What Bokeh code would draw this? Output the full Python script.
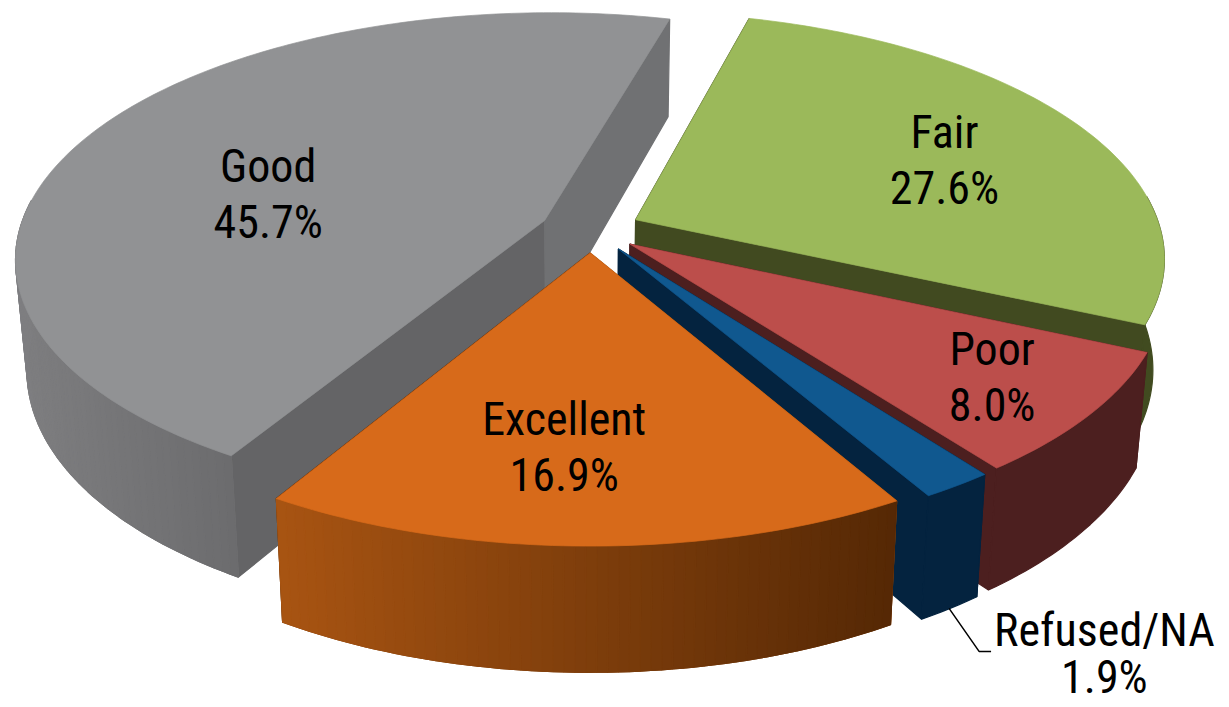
import math
from bokeh.plotting import figure
from bokeh.models import Range1d
from bokeh.core.properties import value
from bokeh.embed import file_html
from bokeh.resources import INLINE

# ---- data ----
categories = ["Good", "Fair", "Poor", "Refused/NA", "Excellent"]
shares = [45.7, 27.6, 8.0, 1.9, 16.9]

# ---- styles ----
top_colors = ["#919294", "#9BB95A", "#BC4E4B", "#10588F", "#D76A1A"]
cut_end_colors = ["#707173", "#414A20", "#4C1F1F", "#04233F", "#5A2B06"]   # wall at clockwise end
cut_start_colors = ["#646466", "#414A20", "#4C1F1F", "#04233F", "#A5540F"]  # wall at start
wall_from = [(126, 126, 128), (65, 75, 32), (76, 31, 31), (4, 35, 63), (168, 84, 18)]
wall_to = [(108, 108, 110), (65, 75, 32), (76, 31, 31), (4, 35, 63), (85, 40, 5)]
START_ANGLE = 210.8     # clockwise from the far side of the disc
label_radius = [0.585, 0.68, 0.795, 1.0, 0.685]
label_nudge = [(-6, 26), (3, 7), (4, 0), (147, 168), (-23, 4)]
label_gap = [56, 56, 56, 47, 56]
FONT = "Roboto Condensed"
FONT_PX = 46

# ---- projection ----
CX, R, EXPLODE, PERSP = 590.0, 525.0, 0.0955, 0.15
CY_TOP, K_TOP = 229.0, 0.46
CY_BOT, K_BOT, SHRINK = 338.0, 0.485, 0.98


def project(X, Y, bottom=False):
    s = 1.0 / (1.0 - PERSP * Y)
    if bottom:
        return CX + R * X * s * SHRINK, CY_BOT + R * K_BOT * Y * s
    return CX + R * X * s, CY_TOP + R * K_TOP * Y * s


def polar(angle_deg, radius, off_x, off_y):
    a = math.radians(angle_deg)
    return off_x + radius * math.sin(a), off_y - radius * math.cos(a)


p = figure(width=1229, height=707, output_backend="svg", toolbar_location=None,
           x_range=Range1d(0, 1229), y_range=Range1d(707, 0), min_border=0,
           outline_line_color=None)
p.axis.visible = False
p.grid.visible = False


def poly(points, color, width=0.7):
    p.patch([q[0] for q in points], [q[1] for q in points],
            fill_color=color, line_color=color, line_width=width)


total = sum(shares)
angle = START_ANGLE
for i, share in enumerate(shares):
    span = share / total * 360.0
    a0, a1 = angle, angle + span
    angle = a1
    mid = (a0 + a1) / 2.0
    ox, oy = polar(mid, EXPLODE, 0.0, 0.0)
    n = max(4, int(span))
    angles = [a0 + span * j / n for j in range(n + 1)]
    arc = [polar(a, 1.0, ox, oy) for a in angles]

    # cut walls
    for edge, color in ((arc[0], cut_start_colors[i]), (arc[-1], cut_end_colors[i])):
        poly([project(ox, oy), project(*edge), project(*edge, True), project(ox, oy, True)], color, 1.2)

    # outer wall (near side only): a solid base, then shading strip by strip across the screen
    near = [q for q, a in zip(arc, angles) if math.cos(math.radians(a)) < 0.1]
    tops = [project(*q) for q in near]
    bots = [project(*q, True) for q in near]
    if len(near) > 1:
        base = "#%02x%02x%02x" % tuple((wall_from[i][k] + wall_to[i][k]) // 2 for k in range(3))
        poly(tops + bots[::-1], base, 1.2)
        if wall_from[i] != wall_to[i]:
            xs = [q[0] for q in tops]
            xmin, xmax = min(xs), max(xs)
            for j in range(len(near) - 1):
                t = ((xs[j] + xs[j + 1]) / 2.0 - xmin) / max(xmax - xmin, 1.0)
                c = [round(wall_from[i][k] + (wall_to[i][k] - wall_from[i][k]) * t) for k in range(3)]
                poly([tops[j], tops[j + 1], bots[j + 1], bots[j]], "#%02x%02x%02x" % tuple(c), 1.2)

    # top face
    poly([project(ox, oy)] + [project(*q) for q in arc], top_colors[i])

# labels
angle = START_ANGLE
for i, (name, share) in enumerate(zip(categories, shares)):
    span = share / total * 360.0
    mid = angle + span / 2.0
    angle += span
    ox, oy = polar(mid, EXPLODE, 0.0, 0.0)
    lx, ly = project(*polar(mid, label_radius[i], ox, oy))
    lx += label_nudge[i][0]
    ly += label_nudge[i][1]
    p.text([lx, lx], [ly - label_gap[i] / 2.0, ly + label_gap[i] / 2.0],
           text=[name, f"{share:.1f}%"], text_align="center", text_baseline="middle",
           text_font=value(FONT), text_font_size=f"{FONT_PX}px",
           text_color="#000000")
    if name == "Refused/NA":
        sx, sy = project(*polar(mid, 1.0, ox, oy), True)
        p.line([sx - 1, sx + 29, sx + 41], [sy, sy + 43, sy + 43],
               line_color="#000000", line_width=1.5)

open("out.html", "w").write(file_html(p, INLINE))
